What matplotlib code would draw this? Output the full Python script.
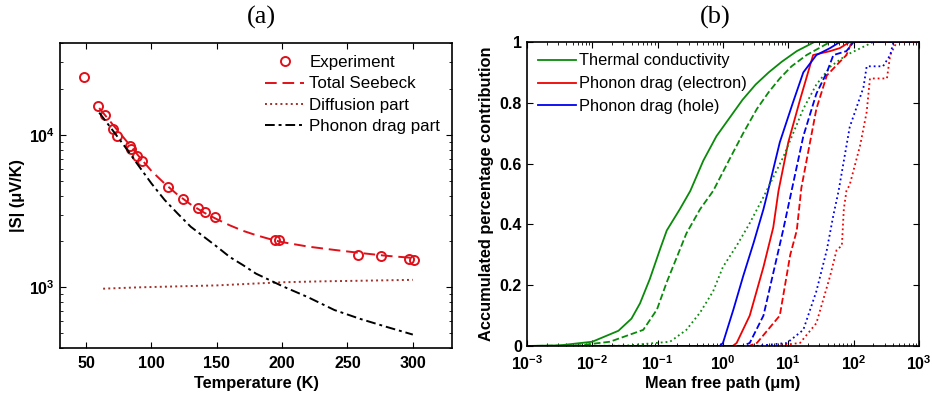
import numpy as np
import matplotlib
matplotlib.use("Agg")
from matplotlib import pyplot as plt
from matplotlib.ticker import LogLocator, NullFormatter

plt.rcParams['font.family'] = ['Liberation Sans', 'DejaVu Sans']
plt.rcParams['mathtext.fontset'] = 'custom'
plt.rcParams['mathtext.rm'] = 'Liberation Sans:bold'
plt.rcParams['mathtext.default'] = 'rm'

# (a) Seebeck coefficient vs temperature
exp_T = [48.2, 59, 64.6, 70.7, 73.8, 83.2, 84.7, 89.1, 92.4, 112.6, 124.1,
         135.4, 141.0, 148.9, 194.2, 197.5, 258.3, 275.5, 297.2, 301]
exp_S = [23900, 15500, 13550, 10900, 9900, 8490, 8110, 7310, 6750, 4530, 3820,
         3320, 3120, 2890, 2040, 2030, 1630, 1610, 1530, 1520]

total_T = [60, 70, 80, 90, 100, 110, 120, 130, 140, 150, 160, 170, 180, 190,
           200, 220, 240, 260, 280, 300]
total_S = [15000, 11800, 9300, 7300, 5800, 4800, 4050, 3500, 3100, 2800, 2550,
           2350, 2200, 2080, 1980, 1850, 1760, 1680, 1610, 1560]

diff_T = [63, 90, 120, 150, 180, 200, 230, 260, 300]
diff_S = [980, 1000, 1015, 1030, 1060, 1080, 1095, 1105, 1120]

drag_T = [60, 70, 80, 90, 100, 110, 120, 130, 140, 150, 160, 170, 180, 190,
          200, 220, 240, 260, 280, 300]
drag_S = [14000, 10800, 8300, 6300, 4800, 3750, 3050, 2500, 2150, 1850, 1580,
          1400, 1230, 1120, 1020, 860, 710, 620, 550, 490]

# (b) accumulated contribution vs mean free path (log10 of um)
g_solid_x = [-3, -2.5, -2.0, -1.6, -1.4, -1.27, -1.12, -0.96, -0.86, -0.66, -0.5,
             -0.3, -0.1, 0.1, 0.3, 0.5, 0.7, 0.9, 1.13, 1.4, 3]
g_solid_y = [0, 0.002, 0.014, 0.05, 0.09, 0.14, 0.22, 0.32, 0.38, 0.45, 0.51,
             0.61, 0.69, 0.75, 0.81, 0.86, 0.90, 0.935, 0.97, 1.0, 1.0]
g_dash_x = [-3, -2.2, -1.73, -1.22, -1.01, -0.86, -0.71, -0.56, -0.35, -0.15,
            0.107, 0.31, 0.52, 0.7, 0.87, 1.05, 1.28, 1.64, 3]
g_dash_y = [0, 0.002, 0.014, 0.053, 0.12, 0.21, 0.29, 0.37, 0.45, 0.51, 0.617,
            0.70, 0.78, 0.835, 0.88, 0.92, 0.957, 1.0, 1.0]
g_dot_x = [-3, -1.5, -0.81, -0.56, -0.35, -0.15, 0.0, 0.21, 0.4, 0.62, 0.92,
           1.23, 1.43, 1.65, 1.89, 2.3, 3]
g_dot_y = [0, 0.001, 0.014, 0.053, 0.11, 0.18, 0.26, 0.33, 0.40, 0.49, 0.62,
           0.78, 0.86, 0.92, 0.957, 1.0, 1.0]

b_solid_x = [-3, -0.05, 0.0, 0.16, 0.31, 0.47, 0.62, 0.69, 0.87, 1.07, 1.23,
             1.43, 1.64, 1.79, 3]
b_solid_y = [0, 0, 0.01, 0.12, 0.23, 0.34, 0.45, 0.51, 0.67, 0.80, 0.90,
             0.957, 0.98, 1.0, 1.0]
r_solid_x = [-3, 0.15, 0.21, 0.41, 0.62, 0.77, 0.85, 1.0, 1.18, 1.38, 1.64,
             1.79, 1.94, 3]
r_solid_y = [0, 0, 0.01, 0.10, 0.26, 0.39, 0.51, 0.67, 0.81, 0.957, 0.97,
             0.98, 1.0, 1.0]
b_dash_x = [-3, 0.3, 0.41, 0.62, 0.77, 0.92, 1.05, 1.23, 1.43, 1.59, 1.69,
            1.89, 2.0, 3]
b_dash_y = [0, 0, 0.01, 0.10, 0.24, 0.38, 0.51, 0.69, 0.83, 0.90, 0.957,
            0.97, 1.0, 1.0]
r_dash_x = [-3, 0.4, 0.52, 0.87, 1.03, 1.13, 1.2, 1.43, 1.59, 1.79, 1.89,
            1.97, 3]
r_dash_y = [0, 0, 0.01, 0.10, 0.30, 0.38, 0.52, 0.78, 0.89, 0.935, 0.957,
            1.0, 1.0]
b_dot_x = [-3, 0.5, 0.98, 1.23, 1.43, 1.59, 1.69, 1.77, 1.94, 2.15, 2.2,
           2.45, 2.56, 2.61, 3]
b_dot_y = [0, 0, 0.01, 0.053, 0.18, 0.316, 0.43, 0.51, 0.72, 0.85, 0.92,
           0.92, 0.957, 1.0, 1.0]
r_dot_x = [-3, 0.8, 1.18, 1.43, 1.64, 1.74, 1.82, 1.85, 1.89, 1.94, 2.1,
           2.2, 2.25, 2.51, 2.56, 2.66, 3]
r_dot_y = [0, 0, 0.01, 0.075, 0.23, 0.316, 0.33, 0.45, 0.51, 0.53, 0.66,
           0.77, 0.88, 0.88, 0.957, 1.0, 1.0]

GREEN = '#0a8a0a'
RED = '#f00000'
BLUE = '#0000f0'
FS = 11.8

fig = plt.figure(figsize=(9.32, 3.98), dpi=100)

# ---- panel (a)
ax1 = fig.add_axes([0.0644, 0.1256, 0.4206, 0.766])
ax1.plot(exp_T, exp_S, 'o', mfc='none', mec='#e0101a', ms=6.5, mew=1.4,
         label='Experiment')
ax1.plot(total_T, total_S, '--', color='#e0101a', lw=1.4, dashes=(6, 3),
         label='Total Seebeck')
ax1.plot(diff_T, diff_S, ':', color='#a03028', lw=1.4, label='Diffusion part')
ax1.plot(drag_T, drag_S, '-.', color='black', lw=1.4, dashes=(5, 2, 1.5, 2),
         label='Phonon drag part')
ax1.set_yscale('log')
ax1.set_xlim(30, 330)
ax1.set_ylim(400, 40000)
ax1.set_xticks([50, 100, 150, 200, 250, 300])
ax1.yaxis.set_major_locator(LogLocator(base=10, subs=[1.0]))
ax1.yaxis.set_minor_locator(LogLocator(base=10, subs=np.arange(2, 10)))
ax1.yaxis.set_minor_formatter(NullFormatter())
ax1.set_xlabel('Temperature (K)', fontsize=FS, fontweight='bold', labelpad=3)
ax1.set_ylabel('|S| (\u03bcV/K)', fontsize=FS, fontweight='bold', labelpad=3)
ax1.legend(loc='upper right', frameon=False, fontsize=12.2,
           handlelength=2.3, handletextpad=0.3, labelspacing=0.38,
           borderaxespad=0.3)

# ---- panel (b)
ax2 = fig.add_axes([0.5654, 0.1307, 0.4206, 0.7638])
curves = [
    (g_solid_x, g_solid_y, GREEN, '-', 'Thermal conductivity'),
    (r_solid_x, r_solid_y, RED, '-', 'Phonon drag (electron)'),
    (b_solid_x, b_solid_y, BLUE, '-', 'Phonon drag (hole)'),
    (g_dash_x, g_dash_y, GREEN, '--', None),
    (g_dot_x, g_dot_y, GREEN, ':', None),
    (r_dash_x, r_dash_y, RED, '--', None),
    (b_dash_x, b_dash_y, BLUE, '--', None),
    (r_dot_x, r_dot_y, RED, ':', None),
    (b_dot_x, b_dot_y, BLUE, ':', None),
]
for lx, fy, col, ls, lab in curves:
    ax2.plot(10.0 ** np.array(lx), fy, ls, color=col, lw=1.3, label=lab)
ax2.set_xscale('log')
ax2.set_xlim(1e-3, 1e3)
ax2.set_ylim(0, 1)
ax2.set_yticks([0, 0.2, 0.4, 0.6, 0.8, 1])
ax2.set_yticklabels(['0', '0.2', '0.4', '0.6', '0.8', '1'])
ax2.xaxis.set_major_locator(LogLocator(base=10, numticks=10))
ax2.xaxis.set_minor_locator(LogLocator(base=10, subs=np.arange(2, 10), numticks=20))
ax2.xaxis.set_minor_formatter(NullFormatter())
ax2.set_xlabel('Mean free path (\u03bcm)', fontsize=FS, fontweight='bold', labelpad=2)
ax2.set_ylabel('Accumulated percentage contribution', fontsize=FS,
               fontweight='bold', labelpad=4)
ax2.legend(loc='upper left', frameon=False, fontsize=11.8, handlelength=2.3,
           handletextpad=0.2, labelspacing=0.48, borderaxespad=0.3)

for ax in (ax1, ax2):
    ax.tick_params(which='both', direction='in', top=True, right=True,
                   labelsize=11.5)
    ax.tick_params(which='major', length=4)
    ax.tick_params(which='minor', length=2)
    for lbl in ax.get_xticklabels() + ax.get_yticklabels():
        lbl.set_fontweight('bold')
    for sp in ax.spines.values():
        sp.set_linewidth(1.2)
ax1.tick_params(axis='x', pad=6)
ax2.tick_params(axis='x', pad=6)

fig.text(0.281, 0.955, '(a)', ha='center', va='center', fontsize=19,
         family='Liberation Serif')
fig.text(0.767, 0.955, '(b)', ha='center', va='center', fontsize=19,
         family='Liberation Serif')

fig.savefig('out.png', dpi=100)
